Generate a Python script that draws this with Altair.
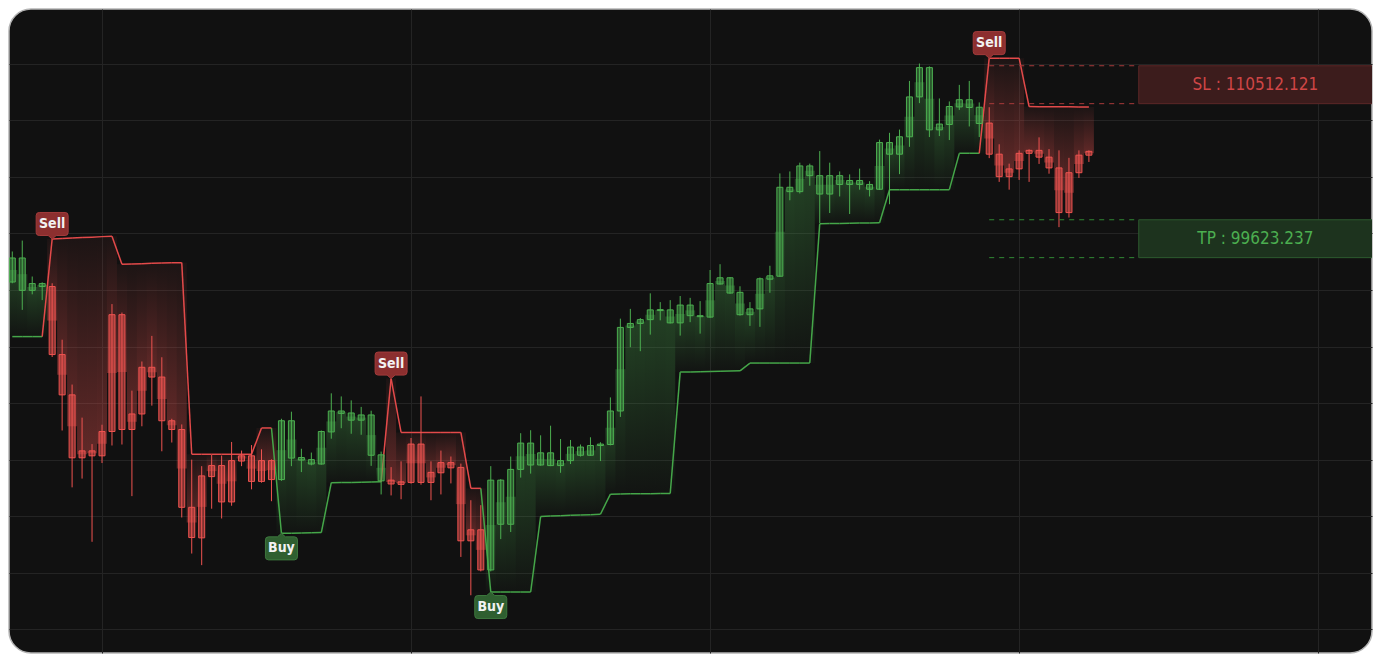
import altair as alt
import numpy as np
import pandas as pd

# ---------------- data ----------------
high = [98720, 99490, 96950, 96540, 96470, 92480, 89310, 86970, 85100, 86470,
        95000, 94400, 88880, 90940, 92750, 91240, 86890, 86490, 84000, 83540,
        84340, 84290, 85250, 84640, 85030, 84730, 84020, 86890, 87390, 84770,
        84500, 86060, 88690, 88470, 88190, 87730, 87460, 84570, 83470, 83880,
        85530, 88470, 83880, 84640, 84220, 83720, 81130, 80780, 83540, 82620,
        84220, 85870, 86080, 85720, 86400, 85460, 85390, 85070, 85580, 85230,
        88400, 93970, 94660, 94010, 95760, 95140, 95280, 95570, 95440, 95210,
        97410, 97820, 96910, 96260, 95140, 96880, 97710, 104240, 104380, 105000,
        104930, 105820, 105000, 104380, 104170, 104580, 103690, 106630, 107110, 107340,
        110780, 112010, 111810, 109540, 109330, 110500, 110780, 109260, 108920, 106300,
        104930, 105870, 105940, 106790, 105960, 105870, 105340, 105870, 105870]

low = [96470, 94590, 95690, 95280, 91260, 86060, 82040, 82660, 78190, 83760,
       85000, 85070, 81420, 86360, 87820, 84590, 85210, 79910, 77360, 76540,
       80530, 79840, 80740, 83540, 81900, 82370, 81060, 82500, 83540, 83120,
       83600, 83640, 85480, 86220, 85830, 85760, 83560, 81540, 81470, 81200,
       82300, 82230, 81130, 81540, 82320, 77120, 74410, 76100, 76100, 78380,
       78880, 82730, 83010, 83570, 83540, 83070, 83690, 84220, 84260, 83900,
       85010, 87020, 91950, 91670, 92840, 93850, 93630, 92770, 93720, 92910,
       94030, 96380, 95730, 94180, 93460, 93390, 95800, 96930, 102340, 102820,
       103370, 100730, 101440, 102610, 101370, 103090, 102610, 103070, 102060, 104190,
       106120, 109210, 106810, 106880, 106600, 108730, 107560, 106810, 105320, 103640,
       103090, 103780, 103640, 104910, 104220, 100440, 101120, 103920, 105050]

open_ = [96560, 95970, 95970, 96240, 96240, 91430, 88580, 84620, 84620, 85990,
         94250, 94250, 87230, 90530, 90530, 89840, 86750, 86130, 80630, 82850,
         83580, 83580, 83930, 84270, 84270, 83930, 83930, 82590, 84110, 83970,
         83690, 83690, 85960, 87270, 86790, 86790, 84310, 82500, 82550, 82430,
         85100, 85100, 83100, 83790, 83790, 83450, 79040, 79040, 76200, 79430,
         79430, 83310, 83620, 83620, 83580, 83580, 83930, 84310, 84310, 85000,
         85070, 87440, 93350, 93630, 93900, 94540, 93670, 93670, 94180, 94110,
         94080, 96420, 95780, 94250, 94250, 94660, 96760, 96970, 102950, 102950,
         104080, 102780, 102780, 103460, 103460, 103460, 103120, 103120, 105600, 105600,
         106830, 109650, 107320, 107320, 107700, 108940, 108900, 107770, 107800, 105600,
         104560, 105660, 105870, 105870, 105390, 104630, 104290, 105530, 105800]

close = [98260, 98260, 96450, 96450, 91430, 88580, 84130, 84130, 84270, 84270,
         85990, 86130, 86130, 87230, 89840, 86750, 86130, 80630, 78490, 78470,
         82800, 81010, 81010, 83900, 82460, 82460, 82590, 86750, 86750, 84150,
         84000, 85990, 87440, 87440, 87300, 87160, 87160, 84340, 82280, 82250,
         82390, 82390, 82390, 83070, 83420, 78260, 78260, 76200, 82550, 82550,
         83310, 85170, 85170, 84480, 84480, 83930, 84890, 84890, 85000, 85100,
         87440, 93350, 93630, 93900, 94590, 94610, 94590, 94930, 94930, 94180,
         96450, 96860, 96860, 95830, 94660, 96790, 97000, 103260, 103260, 104770,
         104770, 104080, 104080, 104080, 103740, 103740, 103460, 106420, 106420, 106830,
         109650, 111720, 111720, 107730, 108970, 109450, 109450, 108920, 105600, 104010,
         104010, 104560, 105660, 105390, 104630, 101470, 101470, 104290, 105530]

trail = [92700, 92700, 92700, 92700,
         99600, 99630, 99670, 99700, 99730, 99770, 99800,
         97820, 97840, 97860, 97880, 97900, 97920, 97930,
         84380, 84380, 84380, 84380, 84380, 84380, 84380,
         86240, 86240,
         78790, 78800, 78810, 78830, 78840,
         82370, 82380, 82390, 82400, 82420, 82430,
         89730,
         85920, 85920, 85920, 85920, 85920, 85920, 85920,
         81970, 81970,
         74640, 74640, 74640, 74640, 74640,
         79980, 80010, 80040, 80060, 80090, 80110, 80140,
         81560, 81570, 81580, 81590, 81590, 81600, 81610,
         90190, 90200, 90220, 90230, 90250, 90260, 90280,
         90830, 90830, 90830, 90830, 90830, 90830, 90830,
         100680, 100690, 100700, 100710, 100730, 100740, 100750,
         103090, 103090, 103090, 103090, 103090, 103090, 103090,
         105660, 105660, 105660,
         112390, 112390, 112390, 112390,
         108970, 108960, 108960, 108950, 108950, 108940, 108940]

SL = 110512.121
TP = 99623.237
BAND = 1340            # half height of the SL / TP zones (price units)
BOX_START = 113        # bar index where the SL / TP boxes begin
X_DOMAIN = [-0.33, 136.4]
Y_DOMAIN = [70327, 115866]
GRID_PRICES = list(range(72000, 112001, 4000))
GRID_IDX = [9, 40, 70, 101, 131]

# ---------------- styling ----------------
GREEN = "#4caf50"
RED = "#ef5350"
GREEN_LINE = "#45a649"
RED_LINE = "#e34a4a"
BG = "#111111"
GRID = "#242424"
FONT = "DejaVu Sans Condensed, DejaVu Sans"

W, H = 1363, 644

# ---------------- tables ----------------
n = len(close)
df = pd.DataFrame({"i": np.arange(n), "open": open_, "high": high, "low": low,
                   "close": close, "trail": trail})
df["trend"] = np.where(df["trail"] > df["close"], "down", "up")
df["top"] = df[["open", "close"]].max(axis=1)
df["bot"] = df[["open", "close"]].min(axis=1)
df["mid"] = (df["open"] + df["close"]) / 2

seg = pd.DataFrame({"i0": df["i"].shift(1), "t0": df["trail"].shift(1),
                    "i1": df["i"], "t1": df["trail"], "trend": df["trend"]}).dropna()

chg = df["trend"] != df["trend"].shift(1)
chg.iloc[0] = False
sig = df[chg].copy()
sig["label"] = np.where(sig["trend"] == "down", "Sell", "Buy")
last_sig = int(sig["i"].iloc[-1])

levels = pd.DataFrame({
    "x0": [last_sig] * 4, "x1": [BOX_START] * 4,
    "y": [SL + BAND, SL - BAND, TP + BAND, TP - BAND],
    "kind": ["sl", "sl", "tp", "tp"]})
boxes = pd.DataFrame({
    "x0": [BOX_START, BOX_START], "x1": [X_DOMAIN[1] + 1, X_DOMAIN[1] + 1],
    "lo": [SL - BAND, TP - BAND], "hi": [SL + BAND, TP + BAND],
    "yc": [SL, TP], "xc": [(BOX_START + X_DOMAIN[1]) / 2] * 2,
    "kind": ["sl", "tp"],
    "text": [f"SL : {SL:.3f}", f"TP : {TP:.3f}"]})

# ---------------- encodings ----------------
xscale = alt.Scale(domain=X_DOMAIN, nice=False, zero=False, padding=0)
yscale = alt.Scale(domain=Y_DOMAIN, nice=False, zero=False, padding=0)
xaxis = alt.Axis(values=GRID_IDX, grid=True, labels=False, ticks=False,
                 domain=False, title=None, gridColor=GRID, gridWidth=1)
yaxis = alt.Axis(values=GRID_PRICES, grid=True, labels=False, ticks=False,
                 domain=False, title=None, gridColor=GRID, gridWidth=1)


def X(f):
    return alt.X(f"{f}:Q", scale=xscale, axis=xaxis)


def Y(f):
    return alt.Y(f"{f}:Q", scale=yscale, axis=yaxis)


def grad(c0, c1):
    return alt.LinearGradient(gradient="linear", x1=0, x2=0, y1=0, y2=1,
                              stops=[alt.GradientStop(color=c0, offset=0),
                                     alt.GradientStop(color=c1, offset=1)])


base = alt.Chart(df)
layers = []

# gradient fills between price and trailing stop
layers.append(base.transform_filter("datum.trend == 'up'").mark_bar(
    size=10, clip=True,
    fill=grad("rgba(76,175,80,0.30)", "rgba(76,175,80,0.02)")).encode(
    x=X("i"), y=Y("mid"), y2="trail"))
layers.append(base.transform_filter("datum.trend == 'down'").mark_bar(
    size=10, clip=True,
    fill=grad("rgba(239,83,80,0.05)", "rgba(239,83,80,0.36)")).encode(
    x=X("i"), y=Y("trail"), y2="mid"))

# trailing stop line
for tr, col in (("up", GREEN_LINE), ("down", RED_LINE)):
    layers.append(alt.Chart(seg).transform_filter(f"datum.trend == '{tr}'").mark_rule(
        color=col, strokeWidth=1.5, clip=True).encode(
        x=X("i0"), x2="i1", y=Y("t0"), y2="t1"))

# candles
for tr, col, fo in (("up", GREEN, 0.45), ("down", RED, 0.5)):
    f = base.transform_filter(f"datum.trend == '{tr}'")
    layers.append(f.mark_rule(color=col, strokeWidth=1, clip=True).encode(
        x=X("i"), y=Y("low"), y2="high"))
    layers.append(f.mark_bar(size=6, fill=col, fillOpacity=fo, stroke=col,
                             strokeWidth=1, clip=True).encode(
        x=X("i"), y=Y("bot"), y2="top"))

# SL / TP levels
for kind, dash_col, fill_col, edge_col, txt_col in (
        ("sl", "#a83a3a", "#3c1c1c", "#5c2626", "#cf4646"),
        ("tp", "#318a35", "#1d331e", "#2d5a2f", "#4cae50")):
    layers.append(alt.Chart(levels).transform_filter(f"datum.kind == '{kind}'").mark_rule(
        color=dash_col, strokeWidth=1, strokeDash=[5, 5], clip=True).encode(
        x=X("x0"), x2="x1", y=Y("y")))
    bsub = alt.Chart(boxes).transform_filter(f"datum.kind == '{kind}'")
    layers.append(bsub.mark_rect(fill=fill_col, stroke=edge_col, strokeWidth=1,
                                 clip=True).encode(
        x=X("x0"), x2="x1", y=Y("lo"), y2="hi"))
    layers.append(bsub.mark_text(color=txt_col, font=FONT, fontSize=17,
                                 align="center", baseline="middle").encode(
        x=X("xc"), y=Y("yc"), text="text:N"))

# signal labels
SELL_PATH = ("M-0.81,-1.66 L0.81,-1.66 Q1,-1.66 1,-1.47 L1,-0.41 Q1,-0.22 0.81,-0.22 "
             "L0.25,-0.22 L0,0 L-0.25,-0.22 L-0.81,-0.22 Q-1,-0.22 -1,-0.41 "
             "L-1,-1.47 Q-1,-1.66 -0.81,-1.66 Z")
BUY_PATH = ("M-0.81,1.66 L0.81,1.66 Q1,1.66 1,1.47 L1,0.41 Q1,0.22 0.81,0.22 "
            "L0.25,0.22 L0,0 L-0.25,0.22 L-0.81,0.22 Q-1,0.22 -1,0.41 "
            "L-1,1.47 Q-1,1.66 -0.81,1.66 Z")
for lab, path, fcol, scol, dy in (("Sell", SELL_PATH, "#8c2f2f", "#a23b3b", -15),
                                   ("Buy", BUY_PATH, "#2f5f30", "#3d783e", 15)):
    s = alt.Chart(sig).transform_filter(f"datum.label == '{lab}'")
    layers.append(s.mark_point(shape=path, size=1024, filled=True, fill=fcol,
                               stroke=scol, strokeWidth=1, opacity=1,
                               fillOpacity=1).encode(x=X("i"), y=Y("trail")))
    layers.append(s.mark_text(dy=dy, color="#f2f2f2", font=FONT, fontSize=14,
                              fontWeight="bold", align="center",
                              baseline="middle").encode(
        x=X("i"), y=Y("trail"), text="label:N"))

chart = alt.layer(*layers).properties(
    width=W, height=H, padding=1, background="white",
    autosize=alt.AutoSizeParams(type="none"),
).configure_view(
    fill=BG, stroke="#b4b4b4", strokeWidth=1.5, cornerRadius=22
)

chart.save("out.html", embed_options={"renderer": "svg", "actions": False})
